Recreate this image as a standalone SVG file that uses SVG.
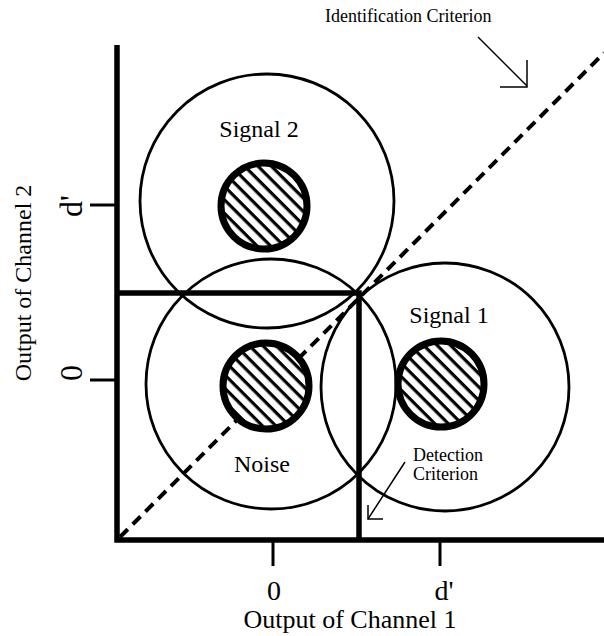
<svg xmlns="http://www.w3.org/2000/svg" width="604" height="636" viewBox="0 0 604 636">
<style>
text{font-family:"Liberation Serif","Times New Roman",serif;fill:#000}
.big{fill:none;stroke:#000;stroke-width:2.8}
.inner{stroke:#000;stroke-width:7}
.axis{stroke:#000;stroke-width:5.5;fill:none}
.tick{stroke:#000;stroke-width:3}
.thin{stroke:#000;stroke-width:1.5;fill:none}
.lbl{font-size:24px;text-anchor:middle}
</style>
<defs>
<pattern id="hatch" patternUnits="userSpaceOnUse" width="9.5" height="9.5" patternTransform="rotate(45)">
<rect width="9.5" height="9.5" fill="#fff"/>
<rect y="0" width="9.5" height="3.2" fill="#000"/>
</pattern>
</defs>
<rect width="604" height="636" fill="#fff"/>
<g id="connectors">
<path class="axis" d="M117,293 H359 V540"/>
<line x1="120" y1="537" x2="604" y2="53" stroke="#000" stroke-width="4" stroke-dasharray="11,7"/>
<line class="thin" x1="478" y1="37" x2="527" y2="86"/>
<path class="thin" d="M500,87 H527 V60"/>
<line class="thin" x1="405" y1="462" x2="368" y2="519"/>
<path class="thin" d="M368,505 V519 H383"/>
</g>
<g id="signal2">
<circle class="big" cx="267" cy="201" r="127"/>
<circle class="inner" cx="264" cy="206" r="43" fill="url(#hatch)"/>
<text class="lbl" x="259" y="137">Signal 2</text>
</g>
<g id="noise">
<circle class="big" cx="271" cy="384" r="125"/>
<circle class="inner" cx="266" cy="386" r="43" fill="url(#hatch)"/>
<text class="lbl" x="262" y="472">Noise</text>
</g>
<g id="signal1">
<circle class="big" cx="445" cy="387" r="124"/>
<circle class="inner" cx="441" cy="384" r="43" fill="url(#hatch)"/>
<text class="lbl" x="449" y="323">Signal 1</text>
</g>
<g id="axes">
<path class="axis" d="M117,45 V540 H604"/>
<line class="tick" x1="90" y1="205" x2="117" y2="205"/>
<line class="tick" x1="90" y1="380" x2="117" y2="380"/>
<line class="tick" x1="273" y1="540" x2="273" y2="566"/>
<line class="tick" x1="440" y1="540" x2="440" y2="566"/>
<text x="274" y="600" font-size="28" text-anchor="middle">0</text>
<text x="444" y="600" font-size="28" text-anchor="middle">d'</text>
<text x="350" y="628" font-size="26" text-anchor="middle">Output of Channel 1</text>
<text transform="translate(82,373) rotate(-90)" font-size="32" text-anchor="middle">0</text>
<text transform="translate(82,206) rotate(-90)" font-size="32" text-anchor="middle">d'</text>
<text transform="translate(31,283) rotate(-90)" font-size="24" text-anchor="middle">Output of Channel 2</text>
</g>
<g id="labels">
<text x="325" y="22" font-size="18">Identification Criterion</text>
<text x="413" y="461" font-size="18">Detection</text>
<text x="413" y="480" font-size="18">Criterion</text>
</g>
</svg>
